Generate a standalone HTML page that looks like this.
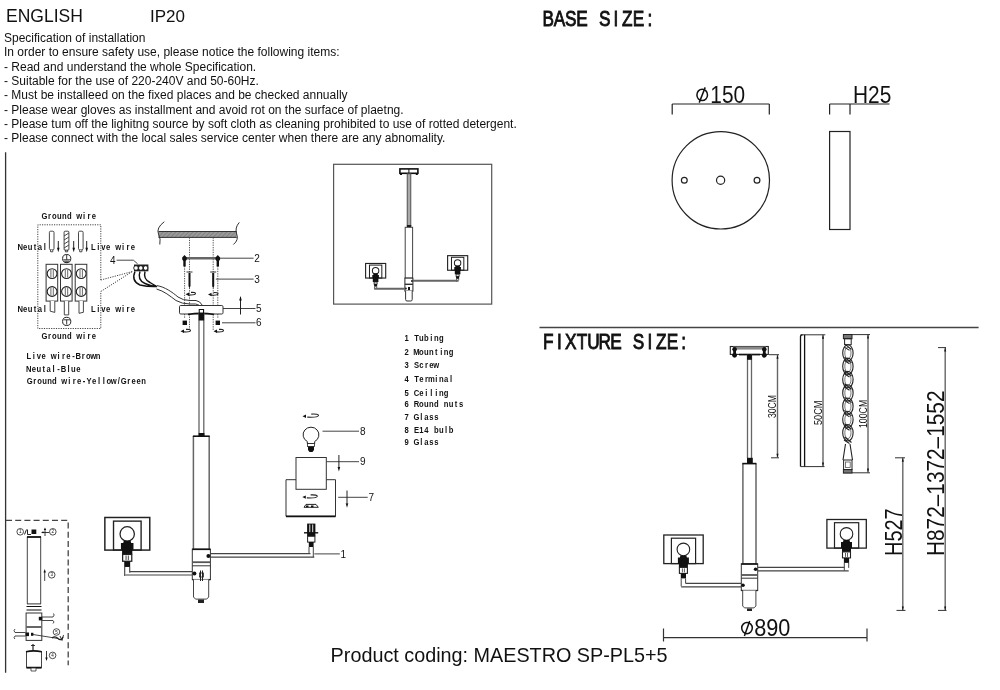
<!DOCTYPE html>
<html><head><meta charset="utf-8">
<style>
html,body{margin:0;padding:0;background:#fff;width:1000px;height:690px;overflow:hidden}
svg{position:absolute;left:0;top:0;will-change:transform}
.s{font-family:"Liberation Sans",sans-serif;fill:#111}
.m{font-family:"Liberation Mono",monospace;fill:#111}
</style></head><body>
<svg width="1000" height="690" viewBox="0 0 1000 690">
<rect x="0" y="0" width="1000" height="690" fill="#fff"/>
<!-- header text -->
<text class="s" x="6" y="22" font-size="17.5">ENGLISH</text>
<text class="s" x="150" y="22" font-size="17">IP20</text>
<g class="s" font-size="12">
<text x="4" y="42.10">Specification of installation</text>
<text x="4" y="56.43">In order to ensure safety use, please notice the following items:</text>
<text x="4" y="70.76">- Read and understand the whole Specification.</text>
<text x="4" y="85.09">- Suitable for the use of 220-240V and 50-60Hz.</text>
<text x="4" y="99.42">- Must be installeed on the fixed places and be checked annually</text>
<text x="4" y="113.75">- Please wear gloves as installment and avoid rot on the surface of plaetng.</text>
<text x="4" y="128.08">- Please tum off the lighitng source by soft cloth as cleaning prohibited to use of rotted detergent.</text>
<text x="4" y="142.41">- Please connect with the local sales service center when there are any abnomality.</text>
</g>
<text class="s" x="330.6" y="662.4" font-size="19.8">Product coding: MAESTRO SP-PL5+5</text>

<!-- BASE SIZE -->
<g fill="none" stroke="#222" stroke-width="1.2">
<circle cx="720.8" cy="180.3" r="48.7"/>
<circle cx="684.3" cy="180.3" r="2.9"/>
<circle cx="720.6" cy="180.3" r="4.1"/>
<circle cx="757" cy="180.3" r="2.9"/>
<path d="M672.2 104H769.3M672.2 104V114.5M769.3 104V114.5"/>
<rect x="829.6" y="131.5" width="20.4" height="98"/>
<path d="M829.6 104H889.5M829.6 104V114.5M850 104V114.5"/>
</g>
<g stroke="#111" stroke-width="1.5" fill="none">
<ellipse cx="702.2" cy="94.9" rx="5.3" ry="5.7"/>
<path d="M705.2 87.4L699.2 102.6"/>
</g>
<text class="s" x="710.3" y="103" font-size="22" textLength="34.8" lengthAdjust="spacingAndGlyphs" transform="translate(0,103) scale(1,1.065) translate(0,-103)">150</text>
<text class="s" x="853" y="103" font-size="22" textLength="38.3" lengthAdjust="spacingAndGlyphs" transform="translate(0,103) scale(1,1.065) translate(0,-103)">H25</text>

<!-- FIXTURE SIZE -->
<path d="M539.5 327.5H978.6" stroke="#444" stroke-width="1.5"/>


<defs>
<g id="sh">
<rect x="-19.6" y="-14.4" width="39.4" height="28.6" fill="none" stroke="#222" stroke-width="1.3"/>
<rect x="-12" y="-11.2" width="24.2" height="25.4" fill="none" stroke="#222" stroke-width="1.2"/>
<circle cx="0" cy="0" r="6.3" fill="#fff" stroke="#222" stroke-width="1.1"/>
<path d="M-3 6H3L3.5 8H5.5V14H4.5V18H-4.5V14H-5.5V8H-3.5Z" fill="#111"/>
<rect x="-4" y="18" width="8" height="6" fill="#fff" stroke="#222" stroke-width="1.1"/>
<path d="M-1 19V23M1 19V23" stroke="#333" stroke-width="0.8"/>
<rect x="-2.6" y="24" width="5.2" height="5" fill="#111"/>
<path d="M-2.2 29V37M2.2 29V34" stroke="#444" stroke-width="1"/>
</g>
<g id="sh2">
<rect x="-19.6" y="-14.4" width="39.4" height="28.6" fill="none" stroke="#222" stroke-width="2.2"/>
<rect x="-12" y="-11.2" width="24.2" height="25.4" fill="none" stroke="#222" stroke-width="2"/>
<circle cx="0" cy="0" r="6.3" fill="#fff" stroke="#222" stroke-width="2"/>
<path d="M-4 5H4L4.5 8H6.5V14H5.5V22H-5.5V14H-6.5V8H-4.5Z" fill="#111"/>
<rect x="-3" y="22" width="6" height="4" fill="#fff" stroke="#222" stroke-width="1.6"/>
<rect x="-3" y="26" width="6" height="5" fill="#111"/>
<path d="M-2.2 31V37M2.2 31V34" stroke="#555" stroke-width="1.8"/>
</g>
</defs>
<!-- fixture drawing -->
<g>
<rect x="730.3" y="346.5" width="38" height="7.9" fill="#fff" stroke="#222" stroke-width="1.1"/>
<rect x="733" y="346.5" width="33" height="3.1" fill="#888"/>
<g fill="#111"><circle cx="734.6" cy="349.3" r="2.3"/><circle cx="734.6" cy="355.3" r="2.4"/><rect x="733.2" y="349" width="2.8" height="6"/><circle cx="764.3" cy="349.3" r="2.3"/><circle cx="764.3" cy="355.3" r="2.4"/><rect x="762.9" y="349" width="2.8" height="6"/></g>
<path d="M739 354.6H760" stroke="#111" stroke-width="1.6"/>
<path d="M747.5 354.5V458M751.5 354.5V458" stroke="#666" stroke-width="1.3"/>
<rect x="747" y="354.5" width="4.9" height="5.3" fill="#111"/>
<rect x="747" y="457.8" width="5.8" height="5.5" fill="#111"/>
<path d="M742.9 463.6V563.7M756 463.6V563.7" stroke="#666" stroke-width="1.5"/>
<path d="M742.3 463.6H756.4" stroke="#111" stroke-width="1.6"/>
<rect x="741.3" y="563.9" width="16.4" height="26.6" fill="#fff" stroke="#333" stroke-width="1"/>
<path d="M741.3 564H757.7" stroke="#111" stroke-width="1.6"/>
<path d="M741.3 575H757.7" stroke="#555" stroke-width="1.8"/>
<path d="M741.3 578.2H757.7" stroke="#333" stroke-width="1"/>
<path d="M741.3 590.5H757.7" stroke="#222" stroke-width="1.3"/>
<path d="M742.7 590.5V606L744.5 607.9H754L755.9 606V590.5" fill="#fff" stroke="#444" stroke-width="1"/>
<path d="M747 608.5H752V611H747Z" fill="#222"/>
<circle cx="755.6" cy="569.3" r="1.8" fill="#111"/>
<circle cx="743" cy="585.3" r="1.8" fill="#111"/>
<use href="#sh" x="683.4" y="549.4"/>
<use href="#sh" x="846.5" y="533.9"/>
<path d="M681.2 586.9H741.3M685.6 583.4H741.3" stroke="#444" stroke-width="1.1"/>
<path d="M757.8 567.4H844.3M757.8 570.9H848.7" stroke="#444" stroke-width="1.1"/>
</g>
<!-- dimensions fixture -->
<g fill="none" stroke="#333" stroke-width="1">
<path d="M769 354.7H779M771 457.8H779"/><path d="M777.5 354.7V457.8M902.8 457.8V610.4M945.2 347.6V610.4M868 334.4V472.5M823 334.8V466.6" stroke="#666" stroke-width="1.4"/>
<path d="M800.5 334.8H825.3M800.5 466.6H824.5"/><path d="M800.5 466.6V336.8Q800.5 334.8 802.5 334.8M804.6 334.8V466.6" stroke="#111" stroke-width="1.3"/>
<path d="M851.7 334.6H870M843 472.8H870"/>
<path d="M895 457.8H905M896.5 610.4H905.5"/>
<path d="M938 347.6H946M938 610.4H946.5"/>
<path d="M663.2 637.6H867M663.5 628.5V641.5M867 628.5V641.5" stroke-width="1.2"/>
</g>
<path d="M777.5 354.7l-1 4h2zM777.5 457.8l-1 -4h2zM823 334.8l-1 4h2zM823 466.6l-1 -4h2zM868 334.4l-1 4h2zM868 472.5l-1 -4h2zM902.8 457.8l-1 4h2zM902.8 610.4l-1 -4h2zM945.2 347.6l-1 4h2zM945.2 610.4l-1 -4h2z" fill="#111"/>
<g class="s">
<text x="0" y="0" font-size="11" textLength="23" lengthAdjust="spacingAndGlyphs" transform="translate(775.8,418) rotate(-90)">30CM</text>
<text x="0" y="0" font-size="11.5" textLength="24.5" lengthAdjust="spacingAndGlyphs" transform="translate(822.1,425) rotate(-90)">50CM</text>
<text x="0" y="0" font-size="11.5" textLength="28.3" lengthAdjust="spacingAndGlyphs" transform="translate(867,428.1) rotate(-90)">100CM</text>
<text x="0" y="0" font-size="23" textLength="47.5" lengthAdjust="spacingAndGlyphs" transform="translate(902,555.9) rotate(-90)">H527</text>
<text x="0" y="0" font-size="23" textLength="165.5" lengthAdjust="spacingAndGlyphs" transform="translate(944.1,556) rotate(-90)">H872–1372–1552</text>
</g>
<g stroke="#111" stroke-width="1.5" fill="none">
<ellipse cx="747" cy="628.1" rx="5.3" ry="5.6"/>
<path d="M749.7 620.9L744.4 635.9"/>
</g>
<text class="s" x="754.2" y="636.3" font-size="22" textLength="36.2" lengthAdjust="spacingAndGlyphs" transform="translate(0,636.3) scale(1,1.065) translate(0,-636.3)">890</text>

<text class="s" font-size="22.2" font-weight="normal" fill="#111" text-anchor="middle" x="707.29 721.87 736.45 751.03 780.19 794.77 809.35 823.94 838.52" y="25.60" transform="scale(0.775,1)" stroke="#111" stroke-width="0.9">BASESIZE:</text>
<text class="s" font-size="22.2" font-weight="normal" fill="#111" text-anchor="middle" x="707.29 721.87 736.45 751.03 765.61 780.19 794.77 823.94 838.52 853.10 867.68 882.26" y="349.40" transform="scale(0.775,1)" stroke="#111" stroke-width="0.9">FIXTURESIZE:</text>
<g fill="none" stroke="#222" stroke-width="1">
<rect x="843.4" y="334.5" width="8.6" height="4.2" fill="#777" stroke="#222"/>
<ellipse cx="847.9" cy="353.0" rx="5.2" ry="8.2" stroke-width="1.1"/>
<ellipse cx="847.9" cy="353.0" rx="3.1" ry="5.8" stroke="#555" stroke-width="0.8"/>
<path d="M844.5 343.9L851.5 349.4M844 346.9L849.5 350.4" stroke="#222" stroke-width="1.1"/>
<ellipse cx="847.9" cy="366.3" rx="5.2" ry="8.2" stroke-width="1.1"/>
<ellipse cx="847.9" cy="366.3" rx="3.1" ry="5.8" stroke="#555" stroke-width="0.8"/>
<path d="M844.5 357.2L851.5 362.7M844 360.2L849.5 363.7" stroke="#222" stroke-width="1.1"/>
<ellipse cx="847.9" cy="379.6" rx="5.2" ry="8.2" stroke-width="1.1"/>
<ellipse cx="847.9" cy="379.6" rx="3.1" ry="5.8" stroke="#555" stroke-width="0.8"/>
<path d="M844.5 370.5L851.5 376.0M844 373.5L849.5 377.0" stroke="#222" stroke-width="1.1"/>
<ellipse cx="847.9" cy="392.9" rx="5.2" ry="8.2" stroke-width="1.1"/>
<ellipse cx="847.9" cy="392.9" rx="3.1" ry="5.8" stroke="#555" stroke-width="0.8"/>
<path d="M844.5 383.8L851.5 389.3M844 386.8L849.5 390.3" stroke="#222" stroke-width="1.1"/>
<ellipse cx="847.9" cy="406.2" rx="5.2" ry="8.2" stroke-width="1.1"/>
<ellipse cx="847.9" cy="406.2" rx="3.1" ry="5.8" stroke="#555" stroke-width="0.8"/>
<path d="M844.5 397.1L851.5 402.6M844 400.1L849.5 403.6" stroke="#222" stroke-width="1.1"/>
<ellipse cx="847.9" cy="419.5" rx="5.2" ry="8.2" stroke-width="1.1"/>
<ellipse cx="847.9" cy="419.5" rx="3.1" ry="5.8" stroke="#555" stroke-width="0.8"/>
<path d="M844.5 410.4L851.5 415.9M844 413.4L849.5 416.9" stroke="#222" stroke-width="1.1"/>
<ellipse cx="847.9" cy="432.8" rx="5.2" ry="8.2" stroke-width="1.1"/>
<ellipse cx="847.9" cy="432.8" rx="3.1" ry="5.8" stroke="#555" stroke-width="0.8"/>
<path d="M844.5 423.7L851.5 429.2M844 426.7L849.5 430.2" stroke="#222" stroke-width="1.1"/>
<path d="M844.5 437.0L851.5 442.5M844 440.0L849.5 443.5" stroke="#222" stroke-width="1.1"/>
<rect x="844.6" y="338.7" width="6.6" height="6" stroke-width="1"/>
<path d="M845.5 444L843 460M850 444L852.5 460" stroke-width="1.1"/>
<rect x="843.6" y="460" width="8.4" height="9.5"/><rect x="845.4" y="462" width="4.8" height="5.5" stroke="#555" stroke-width="0.8"/>
<rect x="843.4" y="469.6" width="8.6" height="3.4" fill="#777"/>
</g>
<text class="s" font-size="9.8" font-weight="bold" fill="#111" text-anchor="middle" x="57.02 63.37 69.71 76.06 82.40 88.75 101.44 107.79 114.13 120.48" y="219.40" transform="scale(0.78,1)" >Groundwire</text>
<text class="s" font-size="9.8" font-weight="bold" fill="#111" text-anchor="middle" x="25.87 32.21 38.56 44.90 51.25 57.60" y="250.40" transform="scale(0.78,1)" >Neutal</text>
<text class="s" font-size="9.8" font-weight="bold" fill="#111" text-anchor="middle" x="119.71 126.06 132.40 138.75 151.44 157.79 164.13 170.48" y="250.40" transform="scale(0.78,1)" >Livewire</text>
<text class="s" font-size="9.8" font-weight="bold" fill="#111" text-anchor="middle" x="25.87 32.21 38.56 44.90 51.25 57.60" y="312.40" transform="scale(0.78,1)" >Neutal</text>
<text class="s" font-size="9.8" font-weight="bold" fill="#111" text-anchor="middle" x="119.71 126.06 132.40 138.75 151.44 157.79 164.13 170.48" y="312.40" transform="scale(0.78,1)" >Livewire</text>
<text class="s" font-size="9.8" font-weight="bold" fill="#111" text-anchor="middle" x="57.02 63.37 69.71 76.06 82.40 88.75 101.44 107.79 114.13 120.48" y="339.40" transform="scale(0.78,1)" >Groundwire</text>
<text class="s" font-size="9.8" font-weight="bold" fill="#111" text-anchor="middle" x="37.02 43.37 49.71 56.06 68.75 75.10 81.44 87.79 94.13 100.48 106.83 113.17 119.52 125.87" y="358.80" transform="scale(0.78,1)" >Livewire-Brown</text>
<text class="s" font-size="9.8" font-weight="bold" fill="#111" text-anchor="middle" x="37.02 43.37 49.71 56.06 62.40 68.75 75.10 81.44 87.79 94.13 100.48" y="371.60" transform="scale(0.78,1)" >Neutal-Blue</text>
<text class="s" font-size="9.8" font-weight="bold" fill="#111" text-anchor="middle" x="38.04 44.39 50.74 57.08 63.43 69.78 82.47 88.81 95.16 101.51 107.85 114.20 120.54 126.89 133.24 139.58 145.93 152.28 158.62 164.97 171.31 177.66 184.01" y="383.60" transform="scale(0.78,1)" >Groundwire-Yellow/Green</text>
<text class="s" font-size="9.8" font-weight="bold" fill="#111" text-anchor="middle" x="521.25 533.94 540.29 546.63 552.98 559.33 565.67" y="341.40" transform="scale(0.78,1)" >1Tubing</text>
<text class="s" font-size="9.8" font-weight="bold" fill="#111" text-anchor="middle" x="521.25 533.94 540.29 546.63 552.98 559.33 565.67 572.02 578.37" y="355.40" transform="scale(0.78,1)" >2Mounting</text>
<text class="s" font-size="9.8" font-weight="bold" fill="#111" text-anchor="middle" x="521.25 533.94 540.29 546.63 552.98 559.33" y="368.40" transform="scale(0.78,1)" >3Screw</text>
<text class="s" font-size="9.8" font-weight="bold" fill="#111" text-anchor="middle" x="521.25 533.94 540.29 546.63 552.98 559.33 565.67 572.02 578.37" y="381.60" transform="scale(0.78,1)" >4Terminal</text>
<text class="s" font-size="9.8" font-weight="bold" fill="#111" text-anchor="middle" x="521.25 533.94 540.29 546.63 552.98 559.33 565.67 572.02" y="396.00" transform="scale(0.78,1)" >5Ceiling</text>
<text class="s" font-size="9.8" font-weight="bold" fill="#111" text-anchor="middle" x="521.25 533.94 540.29 546.63 552.98 559.33 572.02 578.37 584.71 591.06" y="407.40" transform="scale(0.78,1)" >6Roundnuts</text>
<text class="s" font-size="9.8" font-weight="bold" fill="#111" text-anchor="middle" x="521.25 533.94 540.29 546.63 552.98 559.33" y="420.40" transform="scale(0.78,1)" >7Glass</text>
<text class="s" font-size="9.8" font-weight="bold" fill="#111" text-anchor="middle" x="521.25 533.94 540.29 546.63 559.33 565.67 572.02 578.37" y="433.40" transform="scale(0.78,1)" >8E14bulb</text>
<text class="s" font-size="9.8" font-weight="bold" fill="#111" text-anchor="middle" x="521.25 533.94 540.29 546.63 552.98 559.33" y="445.40" transform="scale(0.78,1)" >9Glass</text>
<path d="M5.6 152.3V672.7" stroke="#333" stroke-width="1.3"/>
<g fill="none" stroke="#444" stroke-width="1" stroke-dasharray="1.2 1.2">
<path d="M100.8 280V224.8H37.8V328.5H100.8V291.5"/>
<path d="M100.8 280L132.2 271.6M100.8 291.5L132.2 271.6"/>
</g>
<g fill="#fff" stroke="#333" stroke-width="0.9">
<rect x="49.4" y="231.2" width="4.6" height="18.6" rx="1.2"/>
<path d="M50.6 249.8V251.8H52.8V249.8" />
<rect x="78.5" y="231.2" width="4.6" height="18.6" rx="1.2"/>
<path d="M79.7 249.8V251.8H81.9V249.8" />
<rect x="64.1" y="231.2" width="4.8" height="19" rx="1" fill="#fff"/>
</g>
<path d="M64.1 236L68.9 233M64.1 240L68.9 237M64.1 244L68.9 241M64.1 248L68.9 245" stroke="#333" stroke-width="0.9"/>
<path d="M65.4 249.8V251.8H67.6V249.8" fill="none" stroke="#333" stroke-width="0.9"/>
<path d="M58.3 241V249" stroke="#222" stroke-width="1"/><path d="M58.3 252.3l-1.3 -4.5h2.6z" fill="#111"/>
<path d="M73.7 241V249" stroke="#222" stroke-width="1"/><path d="M73.7 252.3l-1.3 -4.5h2.6z" fill="#111"/>
<path d="M86.7 241V249" stroke="#222" stroke-width="1"/><path d="M86.7 252.3l-1.3 -4.5h2.6z" fill="#111"/>
<circle cx="66.7" cy="258.6" r="4.1" fill="#fff" stroke="#222" stroke-width="1"/>
<circle cx="66.7" cy="321.4" r="4.1" fill="#fff" stroke="#222" stroke-width="1"/>
<path d="M66.7 255V259.6M63.4 259.8H70M64.2 261.2H69.2M65.2 262.4H68.2" stroke="#222" stroke-width="0.9"/>
<path d="M63.5 319.8H70M66.7 319.8V324.5" stroke="#222" stroke-width="0.9"/>
<rect x="46.1" y="264.3" width="11.6" height="36.8" fill="#fff" stroke="#333" stroke-width="1"/>
<circle cx="52.1" cy="273.6" r="4.9" fill="#fff" stroke="#222" stroke-width="1.1"/><path d="M50.9 269.6V277.6M53.3 269.6V277.6" stroke="#444" stroke-width="0.8"/>
<circle cx="52.1" cy="291.5" r="4.9" fill="#fff" stroke="#222" stroke-width="1.1"/><path d="M50.9 287.5V295.5M53.3 287.5V295.5" stroke="#444" stroke-width="0.8"/>
<rect x="60.5" y="264.3" width="11.6" height="36.8" fill="#fff" stroke="#333" stroke-width="1"/>
<circle cx="66.5" cy="273.6" r="4.9" fill="#fff" stroke="#222" stroke-width="1.1"/><path d="M65.3 269.6V277.6M67.7 269.6V277.6" stroke="#444" stroke-width="0.8"/>
<circle cx="66.5" cy="291.5" r="4.9" fill="#fff" stroke="#222" stroke-width="1.1"/><path d="M65.3 287.5V295.5M67.7 287.5V295.5" stroke="#444" stroke-width="0.8"/>
<rect x="75.2" y="264.3" width="11.6" height="36.8" fill="#fff" stroke="#333" stroke-width="1"/>
<circle cx="81.2" cy="273.6" r="4.9" fill="#fff" stroke="#222" stroke-width="1.1"/><path d="M80.0 269.6V277.6M82.4 269.6V277.6" stroke="#444" stroke-width="0.8"/>
<circle cx="81.2" cy="291.5" r="4.9" fill="#fff" stroke="#222" stroke-width="1.1"/><path d="M80.0 287.5V295.5M82.4 287.5V295.5" stroke="#444" stroke-width="0.8"/>
<g fill="#fff" stroke="#333" stroke-width="0.9">
<path d="M50.2 301.1V311.2L54.8 312.4V301.1"/>
<path d="M64.3 301.1V314.9H68.7V301.1"/>
<path d="M79 301.1V313.3L83.4 312.3V301.1"/>
</g>
<defs><pattern id="hat" width="3" height="3" patternUnits="userSpaceOnUse" patternTransform="rotate(45)"><rect width="3" height="3" fill="#9a9a9a"/><path d="M0 0V3" stroke="#6a6a6a" stroke-width="1"/></pattern></defs>
<rect x="158.5" y="231.5" width="78.2" height="5.9" fill="url(#hat)"/>
<path d="M158.5 231.5H236.7M158.5 237.4H236.7" stroke="#333" stroke-width="1"/>
<path d="M164.3 221.7Q156 228 158.5 234Q161 239 159.8 244.5M239.3 222.4Q234.5 228 236.7 234Q239 240 233.4 244.5" fill="none" stroke="#333" stroke-width="1"/>
<g stroke="#444" stroke-width="0.9" stroke-dasharray="1.3 1.1" fill="none">
<path d="M189.5 237.4V330M213.2 237.4V330M184.6 266V318M217.8 266V318"/>
</g>
<path d="M184.5 258.2H217.8" stroke="#666" stroke-width="2.4"/>
<path d="M217.8 258.2H253.6M215.8 279.1H253.6M223 308.5H255.5M222 322.8H255.5" stroke="#444" stroke-width="1"/>
<path d="M184.5 255L186.8 257.5V259.5L185.7 261V266.5H183.3V261L182.2 259.5V257.5Z" fill="#111"/>
<path d="M217.8 255L220.1 257.5V259.5L219.0 261V266.5H216.6V261L215.5 259.5V257.5Z" fill="#111"/>
<path d="M186.5 272H192.5" stroke="#333" stroke-width="1"/><path d="M188.5 273V286L189.5 288.2L190.5 286V273Z" fill="#111"/>
<path d="M210.2 272H216.2" stroke="#333" stroke-width="1"/><path d="M212.2 273V286L213.2 288.2L214.2 286V273Z" fill="#111"/>
<path d="M191.0 292.4Q195.7 292.1 195.5 293.7Q195.0 295.4 188.5 294.9" fill="none" stroke="#222" stroke-width="1.1"/><path d="M185.5 294.2L189.0 292.6V296.0Z" fill="#111"/>
<path d="M213.5 292.6Q218.2 292.3 218.0 293.9Q217.5 295.6 211.0 295.1" fill="none" stroke="#222" stroke-width="1.1"/><path d="M208.0 294.4L211.5 292.8V296.2Z" fill="#111"/>
<path d="M186.0 329.4Q190.7 329.1 190.5 330.7Q190.0 332.4 183.5 331.9" fill="none" stroke="#222" stroke-width="1.1"/><path d="M180.5 331.2L184.0 329.6V333.0Z" fill="#111"/>
<path d="M219.0 329.4Q223.7 329.1 223.5 330.7Q223.0 332.4 216.5 331.9" fill="none" stroke="#222" stroke-width="1.1"/><path d="M213.5 331.2L217.0 329.6V333.0Z" fill="#111"/>
<rect x="179.5" y="305.5" width="43.5" height="8.5" rx="1.2" fill="#fff" stroke="#333" stroke-width="1"/>
<path d="M240.5 297V314.5" stroke="#222" stroke-width="1"/><path d="M240.5 296l-1.3 4.5h2.6z" fill="#111"/>
<path d="M188 314.5Q201 312 214 314.5" fill="none" stroke="#111" stroke-width="1.5"/>
<rect x="182.6" y="320.6" width="4.4" height="4.4" fill="#111"/>
<rect x="215.6" y="320.6" width="4.4" height="4.4" fill="#111"/>
<path d="M199 313V433M203.8 313V433" stroke="#666" stroke-width="1.3"/>
<rect x="198.7" y="309" width="5.4" height="11.5" fill="#111"/><rect x="199.8" y="310" width="3.2" height="2.5" fill="#fff"/>
<text class="s" font-size="10" x="254.3" y="262.2">2</text>
<text class="s" font-size="10" x="254.3" y="283.0">3</text>
<text class="s" font-size="10" x="256.0" y="312.2">5</text>
<text class="s" font-size="10" x="256.0" y="326.2">6</text>
<text class="s" font-size="10" x="110.0" y="263.8">4</text>
<path d="M116.6 260.2H133.4L137.6 263.8" fill="none" stroke="#333" stroke-width="0.9"/>
<rect x="134" y="264.5" width="14.4" height="6.8" fill="#222"/>
<circle cx="136.0" cy="268" r="2.3" fill="#fff" stroke="#111" stroke-width="0.9"/>
<circle cx="140.8" cy="268" r="2.3" fill="#fff" stroke="#111" stroke-width="0.9"/>
<circle cx="145.6" cy="268" r="2.3" fill="#fff" stroke="#111" stroke-width="0.9"/>
<path d="M135 271.5Q131 281 140 285Q148 287 157 286.6M140 271.5Q137 280 145 283.5Q150 286 157 286.6M145 271.5Q143 279 150 282.5Q154 285 157 286.6" fill="none" stroke="#111" stroke-width="1.4"/>
<path d="M157 285.6C165 287 172 292 178 297Q183 300.5 190 300.5L196 300.5Q200 301 202.5 305.5M156.5 289C164 291 170 296 176 300.5Q182 304 190 304L195.5 304Q198 304.5 199.5 305.5" fill="none" stroke="#333" stroke-width="1"/>
<rect x="198.4" y="433" width="6.2" height="3.4" fill="#111"/>
<path d="M193.4 436V549.1M209.2 436V549.1" stroke="#666" stroke-width="1.5"/>
<path d="M192.9 436.2H209.7" stroke="#111" stroke-width="1.6"/>
<rect x="192.3" y="549.2" width="18.1" height="30.4" fill="#fff" stroke="#333" stroke-width="1"/>
<path d="M192.3 549.3H210.4" stroke="#111" stroke-width="1.6"/>
<path d="M192.3 562.2H210.4" stroke="#555" stroke-width="1.8"/>
<path d="M192.3 565.8H210.4" stroke="#333" stroke-width="1"/>
<path d="M192.3 579.6H210.4" stroke="#222" stroke-width="1.3"/>
<path d="M193.5 579.6V597L195.5 599.1H206.7L208.7 597V579.6" fill="#fff" stroke="#444" stroke-width="1"/>
<path d="M198 599.5H204V603H198Z" fill="#222"/>
<circle cx="208.4" cy="556" r="2" fill="#111"/><circle cx="194.4" cy="573.5" r="2" fill="#111"/>
<path d="M200.5 570.5V581M202.5 570.5V581" stroke="#222" stroke-width="1"/><rect x="199.5" y="573" width="4" height="4" fill="none" stroke="#222" stroke-width="0.8"/>
<g transform="translate(127.2,533.9) scale(1.14)"><use href="#sh"/></g>
<path d="M125.3 575H192.3M130 571.6H192.3" stroke="#444" stroke-width="1.1"/>
<path d="M210.4 553.6H310.5M210.4 557.1H314.3" stroke="#444" stroke-width="1.1"/>
<path d="M311.3 414.1Q318.8 413.8 318.5 415.6Q317.7 417.6 307.3 417.1" fill="none" stroke="#222" stroke-width="1.1"/><path d="M302.5 416.2L306.0 414.6V418.0Z" fill="#111"/>
<path d="M307.3 443.5V441.5A7.9 7.6 0 1 1 314.7 441.5V443.5Z" fill="#fff" stroke="#222" stroke-width="1"/>
<rect x="307.5" y="443.5" width="7" height="3" fill="#fff" stroke="#222" stroke-width="0.8"/><path d="M308 446.5H314V450L312.5 452H309.5L308 450Z" fill="#111"/>
<rect x="296" y="457.5" width="30.3" height="31.8" fill="none" stroke="#333" stroke-width="1"/>
<path d="M286 479.7H296M326.3 479.7H335.5V516.4H286V479.7" fill="none" stroke="#333" stroke-width="1"/><path d="M286 516.4H335.5" stroke="#111" stroke-width="1.6"/>
<path d="M310.6 494.9Q317.6 494.6 317.3 496.4Q316.6 498.4 306.8 497.9" fill="none" stroke="#222" stroke-width="1.1"/><path d="M302.3 497.0L305.8 495.4V498.8Z" fill="#111"/>
<path d="M304 507.3L306 504.4H316L318.3 507.3Z" fill="#fff" stroke="#222" stroke-width="1"/><path d="M306 505.5h2.5v1.8h-2.5zM311 505.5h2.5v1.8h-2.5z" fill="#111"/>
<path d="M322.5 431.2H359M326.3 461.7H359M338.2 497.3H367.7M314.3 553.9H339.8" stroke="#444" stroke-width="1"/>
<path d="M338.9 455V467M347 490.5V503" stroke="#222" stroke-width="1"/><path d="M338.9 471.5l-1.3 -4.5h2.6zM347 507.8l-1.3 -4.5h2.6z" fill="#111"/>
<path d="M307.1 523.6H315.4V536.3H307.1Z" fill="#111"/><path d="M309.8 524.5V533M312.7 524.5V533" stroke="#fff" stroke-width="0.9"/>
<path d="M304 532.8H318.2" stroke="#111" stroke-width="1.4"/>
<rect x="307.6" y="536.3" width="7.3" height="5.8" fill="#fff" stroke="#222" stroke-width="1"/>
<rect x="308.8" y="542" width="4.8" height="5" fill="#111"/>
<path d="M309 547V553.6M313.3 547V557.1" stroke="#444" stroke-width="1"/>
<text class="s" font-size="10" x="360.0" y="434.6">8</text>
<text class="s" font-size="10" x="360.0" y="465.2">9</text>
<text class="s" font-size="10" x="368.5" y="501.4">7</text>
<text class="s" font-size="10" x="340.5" y="557.9">1</text>
<rect x="333.6" y="164.3" width="158.1" height="139.8" fill="none" stroke="#555" stroke-width="1.2"/>
<rect x="399.9" y="168.9" width="18" height="4.4" fill="#fff" stroke="#111" stroke-width="1.6"/>
<path d="M408.9 169V173" stroke="#111" stroke-width="1"/><path d="M401 173.5V175M416.8 173.5V175" stroke="#111" stroke-width="2"/>
<rect x="407.2" y="173.8" width="3.6" height="51.6" fill="#aaa" stroke="#444" stroke-width="0.9"/>
<rect x="406.8" y="225.2" width="4.5" height="2.4" fill="#111"/>
<rect x="405.2" y="227.3" width="7.4" height="50.8" fill="#fff" stroke="#444" stroke-width="1"/>
<rect x="404.9" y="278.1" width="8" height="13" fill="#fff" stroke="#222" stroke-width="1"/>
<path d="M404.9 284.3H412.9" stroke="#333" stroke-width="1.4"/><circle cx="412" cy="281" r="1" fill="#111"/><circle cx="405.8" cy="288.5" r="1" fill="#111"/><rect x="408" y="287" width="2" height="3" fill="#111"/>
<path d="M405.6 291.1V299.5Q405.6 301 407 301H410.8Q412.2 301 412.2 299.5V291.1" fill="#fff" stroke="#333" stroke-width="1"/>
<g transform="translate(375.6,270.8) scale(0.51)"><use href="#sh2"/></g>
<g transform="translate(457.6,263) scale(0.51)"><use href="#sh2"/></g>
<path d="M375 288.8H405.2M412.6 280.8H458.6" stroke="#666" stroke-width="2"/>
<path d="M6 520.4H68.2V665.2" fill="none" stroke="#444" stroke-width="1.3" stroke-dasharray="6 3.2"/>
<path d="M27.3 536.7V603.9M40.7 536.7V603.9" stroke="#444" stroke-width="1"/>
<path d="M27 537H41" stroke="#111" stroke-width="1.8"/><path d="M27 603.9H41" stroke="#333" stroke-width="1"/>
<path d="M26.5 606.5H41.5M26.5 610H41.5" stroke="#111" stroke-width="1.1"/>
<rect x="26.1" y="613" width="15.7" height="27.4" fill="#fff" stroke="#333" stroke-width="1"/>
<path d="M26.1 627H41.8" stroke="#666" stroke-width="2"/>
<rect x="38.8" y="616.8" width="3.5" height="3.6" fill="#111"/><rect x="25.5" y="632.5" width="3.5" height="3.6" fill="#111"/><rect x="31" y="632.8" width="2.4" height="3" fill="#111"/>
<path d="M42 617H53M42 620.5H53M15 632.5H25.5M15 636H25.5" stroke="#333" stroke-width="0.9"/>
<path d="M53 617Q55 615 53.5 613.5M53 620.5Q55 622 53 623.5M15 632.5Q13 630.5 15 629M15 636Q13 638 15 639" fill="none" stroke="#333" stroke-width="0.9"/>
<path d="M33 634.5L58 638.5" stroke="#333" stroke-width="0.9"/><path d="M52 638Q55 635.5 58 638.5T63 637" fill="none" stroke="#222" stroke-width="1.3"/><path d="M60 636L62 640.5L63.5 635" fill="none" stroke="#222" stroke-width="0.9"/>
<path d="M33 644V651" stroke="#222" stroke-width="1.2"/><path d="M31 645.5H35" stroke="#222" stroke-width="0.9"/>
<path d="M26.5 651.5V667.8H41.5V651.5" fill="#fff" stroke="#444" stroke-width="1"/><path d="M26 651.8Q33.5 650 41.8 651.8M26.5 667.6H41.5" stroke="#111" stroke-width="1.6" fill="none"/>
<path d="M31 668H36V671H31Z" fill="#fff" stroke="#333" stroke-width="0.8"/>
<path d="M46.5 651V659" stroke="#222" stroke-width="0.9"/><path d="M46.5 661l-1.2 -3.5h2.4z" fill="#111"/>
<path d="M44.7 581V571" stroke="#333" stroke-width="0.9"/><path d="M44.7 569l-1.2 3.5h2.4z" fill="#111"/>
<circle cx="20.2" cy="531.8" r="3.3" fill="#fff" stroke="#222" stroke-width="0.8"/><text class="s" font-size="4.5" x="20.2" y="533.4" text-anchor="middle">1</text>
<circle cx="52.8" cy="531.8" r="3.3" fill="#fff" stroke="#222" stroke-width="0.8"/><text class="s" font-size="4.5" x="52.8" y="533.4" text-anchor="middle">2</text>
<circle cx="51.7" cy="574.8" r="3.3" fill="#fff" stroke="#222" stroke-width="0.8"/><text class="s" font-size="4.5" x="51.7" y="576.4" text-anchor="middle">3</text>
<circle cx="52.6" cy="655.4" r="3.3" fill="#fff" stroke="#222" stroke-width="0.8"/><text class="s" font-size="4.5" x="52.6" y="657.0" text-anchor="middle">4</text>
<circle cx="56.5" cy="632.0" r="3.3" fill="#fff" stroke="#222" stroke-width="0.8"/><text class="s" font-size="4.5" x="56.5" y="633.6" text-anchor="middle">5</text>
<rect x="31.5" y="529.5" width="4.8" height="4.5" fill="#111"/><path d="M24.5 534.5L26.5 529.5M27.5 529.5V534.5H31" fill="none" stroke="#222" stroke-width="1"/>
<path d="M45 529V536M41.5 532.5H49" stroke="#222" stroke-width="0.9"/><circle cx="43" cy="532.3" r="0.9" fill="#111"/><path d="M45 527.5l-1.2 2.5h2.4z" fill="#111"/>
</svg>
</body></html>
